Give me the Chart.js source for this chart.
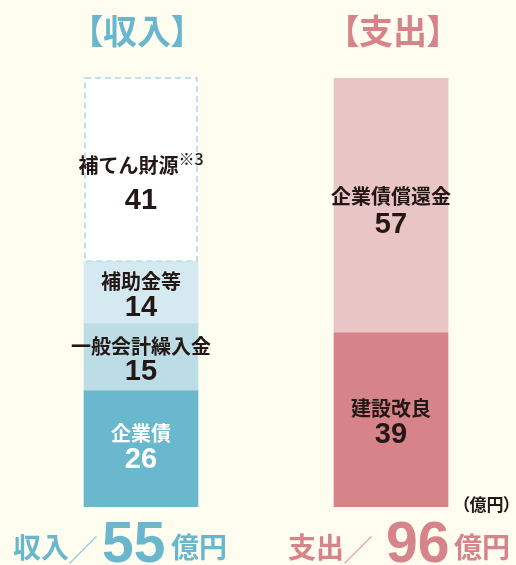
<!DOCTYPE html>
<html lang="ja">
<head>
<meta charset="utf-8">
<script src="https://cdn.jsdelivr.net/npm/chart.js@4"></script>
<style>
  html, body { margin: 0; padding: 0; background: #fffdf0; }
  #wrap { position: relative; width: 516px; height: 565px; background: #fffdf0; overflow: hidden; }
  #c { position: absolute; left: 0; top: 0; }
  .t { position: absolute; white-space: nowrap; font-family: "Noto Sans CJK JP", sans-serif; font-weight: 700; line-height: 1; }
  .palt { font-feature-settings: "palt"; }
  .num { font-family: "Liberation Sans", Arial, sans-serif; font-weight: 700; }
</style>
</head>
<body>
<div id="wrap">
  <canvas id="c" width="516" height="565"></canvas>
  <div class="t palt" style="left:86px; top:13px; font-size:34px; color:#69b7cc;">【収入】</div>
  <div class="t palt" style="left:342px; top:13px; font-size:34px; color:#d6838a;">【支出】</div>
  <div class="t palt" style="left:461px; top:495px; font-size:17px; color:#231815;">（億円）</div>
  <div id="feet"></div>
</div>
<script>
const categories = ['収入', '支出'];
const incomeLabels = ['企業債', '一般会計繰入金', '補助金等', '補てん財源'];
const incomeValues = [26, 15, 14, 41];
const expenseLabels = ['建設改良', '企業債償還金'];
const expenseValues = [39, 57];
const totals = [55, 96];
const totalUnit = '億円';

const incomeColors = ['#6ab8cd', '#bcdde6', '#d5e9f0', '#ffffff'];
const incomeText = ['#ffffff', '#231815', '#231815', '#231815'];
const expenseColors = ['#d6838a', '#e9c5c6'];
const expenseText = ['#231815', '#231815'];

// footer pieces (positions are layout, not data)
const footLayout = [
  { color: '#69b7cc', cat: 13, slash: 68, num: 102, unit: 171 },
  { color: '#d6838a', cat: 288, slash: 343, num: 386, unit: 454 }
];
const feet = document.getElementById('feet');
footLayout.forEach((f, i) => {
  feet.insertAdjacentHTML('beforeend',
    `<div class="t" style="left:${f.cat}px;top:532px;font-size:28px;color:${f.color};">${categories[i]}</div>` +
    `<div class="t" style="left:${f.slash}px;top:533px;font-size:30px;font-weight:300;color:${f.color};opacity:0.8;">／</div>` +
    `<div class="t num" style="left:${f.num}px;top:514px;font-size:57px;color:${f.color};">${totals[i]}</div>` +
    `<div class="t" style="left:${f.unit}px;top:532px;font-size:28px;color:${f.color};">${totalUnit}</div>`);
});

const datasets = [];
incomeValues.forEach((v, i) => {
  datasets.push({
    label: incomeLabels[i],
    data: [v, null],
    backgroundColor: incomeColors[i],
    textColor: incomeText[i],
    dashed: incomeLabels[i] === '補てん財源',
    note: incomeLabels[i] === '補てん財源' ? '※3' : '',
    stack: 's'
  });
});
expenseValues.forEach((v, i) => {
  datasets.push({
    label: expenseLabels[i],
    data: [null, v],
    backgroundColor: expenseColors[i],
    textColor: expenseText[i],
    stack: 's'
  });
});

const labelPlugin = {
  id: 'segLabels',
  afterDatasetsDraw(chart) {
    const ctx = chart.ctx;
    chart.data.datasets.forEach((ds, di) => {
      const meta = chart.getDatasetMeta(di);
      meta.data.forEach((el, idx) => {
        const v = ds.data[idx];
        if (v === null || v === undefined) return;
        const p = el.getProps(['x', 'y', 'base', 'width'], true);
        const top = Math.min(p.y, p.base), bot = Math.max(p.y, p.base);
        const left = p.x - p.width / 2;
        ctx.save();
        if (ds.dashed) {
          ctx.strokeStyle = '#bfe0ea';
          ctx.lineWidth = 2;
          ctx.setLineDash([6, 4]);
          ctx.strokeRect(left + 1, top, p.width - 2, bot - top);
          ctx.setLineDash([]);
        }
        const mid = (top + bot) / 2;
        let ly = mid - 11, ny = mid + 15;
        if (ds.dashed) { ly = mid - 4; ny = mid + 31; }
        if (idx === 0 && di === 0) { ly = mid - 16; ny = mid + 11; }
        if (idx === 1 && ds.data[1] > 50) { ly = mid - 9; ny = mid + 20; }
        ctx.fillStyle = ds.textColor;
        ctx.textBaseline = 'middle';
        const labelFont = '700 20px "Noto Sans CJK JP", sans-serif';
        const noteFont = '500 16px "Noto Sans CJK JP", sans-serif';
        ctx.font = labelFont;
        const lw = ctx.measureText(ds.label).width;
        let nw = 0;
        if (ds.note) { ctx.font = noteFont; nw = ctx.measureText(ds.note).width; }
        const startX = p.x - (lw + nw) / 2;
        ctx.textAlign = 'left';
        ctx.font = labelFont;
        ctx.fillText(ds.label, startX, ly);
        if (ds.note) {
          ctx.font = noteFont;
          ctx.fillText(ds.note, startX + lw, ly - 7);
        }
        ctx.textAlign = 'center';
        ctx.font = '700 29px "Liberation Sans", Arial, sans-serif';
        ctx.fillText(String(v), p.x, ny);
        ctx.restore();
      });
    });
  }
};

new Chart(document.getElementById('c'), {
  type: 'bar',
  data: { labels: categories, datasets },
  options: {
    responsive: false,
    animation: false,
    devicePixelRatio: 1,
    layout: { padding: { top: 78, bottom: 58, left: 16, right: 0 } },
    datasets: { bar: { barThickness: 114, borderWidth: 0, borderSkipped: false } },
    scales: {
      x: { display: false, stacked: true },
      y: { display: false, stacked: true, min: 0, max: 96 }
    },
    plugins: { legend: { display: false }, tooltip: { enabled: false }, title: { display: false } }
  },
  plugins: [labelPlugin]
});
</script>
</body>
</html>
